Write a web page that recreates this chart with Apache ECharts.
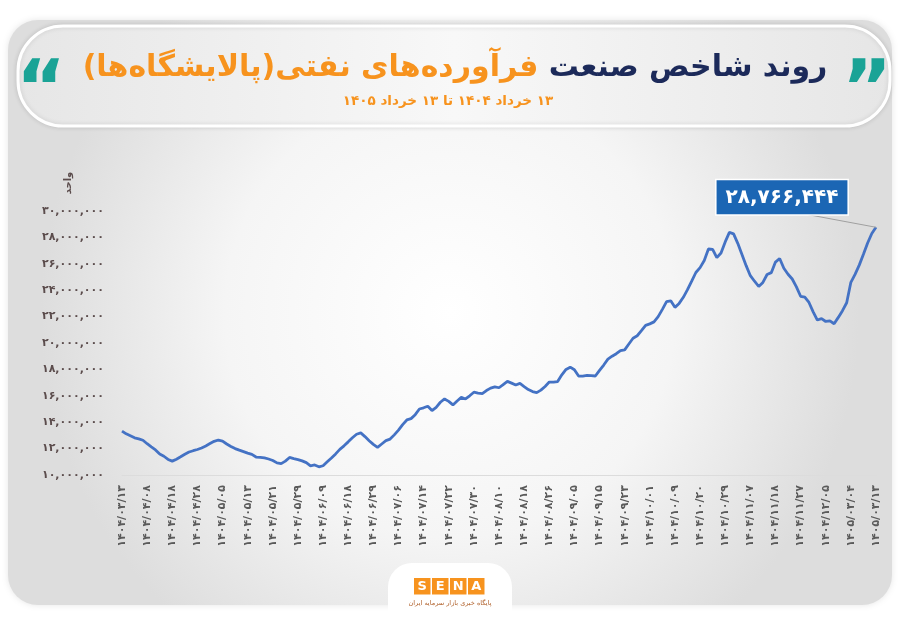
<!DOCTYPE html>
<html><head><meta charset="utf-8">
<script src="https://cdn.jsdelivr.net/npm/echarts@6/dist/echarts.min.js"></script>
<style>html,body{margin:0;padding:0;background:#fff}#c{width:900px;height:623px}</style>
</head><body><div id="c"></div><script>
const FA = s => String(s).replace(/\d/g, d => '۰۱۲۳۴۵۶۷۸۹'[d]);
const RLM = '\u200F';
const FONT = 'DejaVu Sans';

const titleDark = 'روند شاخص صنعت';
const titleOrange = 'فرآورده‌های نفتی(پالایشگاه‌ها)';
const subtitle = '۱۳ خرداد ۱۴۰۴ تا ۱۳ خرداد ۱۴۰۵';
const unitLabel = 'واحد';
const logoLetters = ['S', 'E', 'N', 'A'];
const logoCaption = 'پایگاه خبری بازار سرمایه ایران';

const tickLabels = [
  '۱۴۰۴/۰۳/۱۳','۱۴۰۴/۰۴/۰۸','۱۴۰۴/۰۴/۱۸','۱۴۰۴/۰۴/۲۸','۱۴۰۴/۰۵/۰۵','۱۴۰۴/۰۵/۱۳',
  '۱۴۰۴/۰۵/۲۱','۱۴۰۴/۰۵/۲۹','۱۴۰۴/۰۶/۰۹','۱۴۰۴/۰۶/۱۸','۱۴۰۴/۰۶/۲۹','۱۴۰۴/۰۷/۰۶',
  '۱۴۰۴/۰۷/۱۴','۱۴۰۴/۰۷/۲۲','۱۴۰۴/۰۷/۳۰','۱۴۰۴/۰۸/۱۰','۱۴۰۴/۰۸/۱۸','۱۴۰۴/۰۸/۲۶',
  '۱۴۰۴/۰۹/۰۵','۱۴۰۴/۰۹/۱۵','۱۴۰۴/۰۹/۲۳','۱۴۰۴/۱۰/۰۱','۱۴۰۴/۱۰/۰۹','۱۴۰۴/۱۰/۲۰',
  '۱۴۰۴/۱۰/۲۹','۱۴۰۴/۱۱/۰۷','۱۴۰۴/۱۱/۱۸','۱۴۰۴/۱۱/۲۷','۱۴۰۴/۱۲/۰۵','۱۴۰۵/۰۳/۰۴',
  '۱۴۰۵/۰۳/۱۳'
];
const labelEvery = 6;

// index value in millions of units, one per trading day
const indexValuesM = [
  13.33,13.12,12.97,12.82,12.74,12.63,12.37,12.13,11.90,11.59,
  11.42,11.18,11.05,11.20,11.38,11.57,11.74,11.84,11.93,12.05,
  12.20,12.38,12.55,12.65,12.57,12.35,12.16,12.00,11.88,11.77,
  11.66,11.56,11.36,11.34,11.30,11.21,11.10,10.92,10.86,11.05,
  11.33,11.24,11.17,11.07,10.94,10.70,10.76,10.62,10.70,11.00,
  11.29,11.60,11.94,12.21,12.51,12.82,13.09,13.19,12.91,12.60,
  12.32,12.10,12.35,12.60,12.72,13.04,13.40,13.82,14.17,14.27,
  14.57,15.00,15.09,15.21,14.88,15.13,15.51,15.76,15.58,15.31,
  15.61,15.88,15.76,16.00,16.27,16.20,16.17,16.40,16.58,16.68,
  16.61,16.85,17.09,16.96,16.82,16.94,16.70,16.47,16.32,16.24,
  16.43,16.71,17.04,17.03,17.08,17.59,18.00,18.17,17.97,17.50,
  17.49,17.54,17.53,17.50,17.92,18.33,18.78,19.00,19.19,19.43,
  19.48,19.92,20.36,20.55,20.93,21.34,21.45,21.60,22.00,22.55,
  23.14,23.20,22.70,23.00,23.46,24.04,24.68,25.34,25.71,26.25,
  27.12,27.10,26.47,26.82,27.66,28.38,28.27,27.55,26.71,25.86,
  25.10,24.68,24.28,24.59,25.19,25.33,26.13,26.40,25.66,25.21,
  24.85,24.25,23.54,23.48,23.07,22.36,21.74,21.85,21.63,21.67,
  21.46,21.94,22.45,23.05,24.60,25.20,25.90,26.72,27.58,28.30,
  28.766444
];
const yMin = 10000000, yMax = 30000000, yStep = 2000000;

const values = indexValuesM.map(v => Math.round(v * 1e6));
const lastIdx = values.length - 1;
const categories = values.map((_, i) => String(i));

const chart = echarts.init(document.getElementById('c'), null, {renderer: 'canvas'});
const seriesData = values.map((v, i) => i === lastIdx
  ? {value: v, label: {show: true}, labelLine: {show: true}}
  : v);

chart.setOption({
  animation: false,
  backgroundColor: '#ffffff',
  grid: {left: 122, right: 24, top: 211, bottom: 148},
  xAxis: {
    type: 'category', data: categories, boundaryGap: false,
    axisLine: {show: true, lineStyle: {color: '#dcdcdc', width: 1}},
    axisTick: {show: false},
    axisLabel: {
      interval: labelEvery - 1, rotate: 90, margin: 10,
      fontFamily: FONT, fontSize: 11, fontWeight: 'bold', color: '#5a5a5a',
      formatter: (v, i) => (i % labelEvery === 0 ? tickLabels[i / labelEvery] : '')
    },
    splitLine: {show: false}
  },
  yAxis: {
    type: 'value', min: yMin, max: yMax, interval: yStep,
    axisLine: {show: false}, axisTick: {show: false}, splitLine: {show: false},
    axisLabel: {
      margin: 18, fontFamily: FONT, fontSize: 11, fontWeight: 'bold', color: '#5b4c4c',
      formatter: v => FA(v.toLocaleString('en-US'))
    }
  },
  series: [{
    type: 'line', data: seriesData,
    symbol: 'circle', symbolSize: 0, showSymbol: true, showAllSymbol: true,
    lineStyle: {color: '#4472c4', width: 2.8},
    itemStyle: {color: '#4472c4'},
    label: {
      show: false, position: 'top',
      formatter: p => FA(Number(p.value).toLocaleString('en-US')),
      fontFamily: FONT, fontSize: 20, fontWeight: 'bold', color: '#ffffff',
      backgroundColor: '#1b66b4', borderColor: '#ffffff', borderWidth: 1.5,
      padding: [8, 9, 6, 9]
    },
    labelLine: {show: false, lineStyle: {color: '#a0a0a0', width: 1}},
    labelLayout: p => (p.dataIndex === lastIdx ? {dx: -94, dy: -8} : {}),
    z: 5
  }],
  graphic: [
    {type: 'rect', z: -20, silent: true,
     shape: {x: 8, y: 20, width: 884, height: 585, r: 30},
     style: {fill: new echarts.graphic.RadialGradient(0.5, 0.5, 0.7, [
       {offset: 0, color: '#ffffff'}, {offset: 0.55, color: '#f5f5f5'}, {offset: 1, color: '#dddddd'}]),
       shadowBlur: 6, shadowColor: 'rgba(0,0,0,0.10)'}},
    {type: 'rect', z: -15, silent: true,
     shape: {x: 18, y: 26, width: 872, height: 100, r: 45},
     style: {fill: new echarts.graphic.LinearGradient(0, 0, 1, 0, [
       {offset: 0, color: '#e6e6e6'}, {offset: 0.5, color: '#f8f8f8'}, {offset: 1, color: '#e6e6e6'}]),
       stroke: '#ffffff', lineWidth: 3, shadowBlur: 5, shadowColor: 'rgba(0,0,0,0.12)'}},
    {type: 'text', z: 10, silent: true, x: 455, y: 68,
     style: {
       text: '{o|' + RLM + titleOrange + RLM + '}{s| }{d|' + RLM + titleDark + RLM + '}',
       align: 'center', verticalAlign: 'middle',
       rich: {
         o: {fill: '#f7931e', fontSize: 30, fontWeight: 'bold', fontFamily: FONT},
         s: {fill: '#1c2a5a', fontSize: 30, fontWeight: 'bold', fontFamily: FONT},
         d: {fill: '#1c2a5a', fontSize: 30, fontWeight: 'bold', fontFamily: FONT}
       }
     }},
    {type: 'text', z: 10, silent: true, x: 448, y: 101,
     style: {text: RLM + subtitle + RLM, align: 'center', verticalAlign: 'middle',
       fill: '#f7931e', fontSize: 13.5, fontWeight: 'bold', fontFamily: FONT}},
    {type: 'text', z: 10, silent: true, x: 867, y: 94,
     style: {text: '\u201D', align: 'center', verticalAlign: 'middle',
       fill: '#1aa396', fontSize: 76, fontWeight: 'bold', fontFamily: FONT}},
    {type: 'text', z: 10, silent: true, x: 41, y: 94,
     style: {text: '\u201C', align: 'center', verticalAlign: 'middle',
       fill: '#1aa396', fontSize: 76, fontWeight: 'bold', fontFamily: FONT}},
    {type: 'text', z: 10, silent: true, x: 68, y: 183, rotation: Math.PI / 2,
     style: {text: unitLabel, align: 'center', verticalAlign: 'middle',
       fill: '#5b4c4c', fontSize: 10, fontWeight: 'bold', fontFamily: FONT}},
    {type: 'rect', z: -10, silent: true,
     shape: {x: 388, y: 563, width: 124, height: 80, r: [24, 24, 0, 0]},
     style: {fill: '#ffffff'}},
    ...logoLetters.map((ch, k) => ({
      type: 'group', z: 10, silent: true, x: 414 + k * 18, y: 578,
      children: [
        {type: 'rect', shape: {x: 0, y: 0, width: 16.5, height: 16.5}, style: {fill: '#f7931e'}},
        {type: 'text', x: 8.25, y: 8.5, style: {text: ch, align: 'center', verticalAlign: 'middle',
          fill: '#ffffff', fontSize: 13, fontWeight: 'bold', fontFamily: FONT}}
      ]
    })),
    {type: 'text', z: 10, silent: true, x: 450, y: 603,
     style: {text: RLM + logoCaption + RLM, align: 'center', verticalAlign: 'middle',
       fill: '#b0602a', fontSize: 6.5, fontFamily: FONT}}
  ]
});
</script></body></html>
